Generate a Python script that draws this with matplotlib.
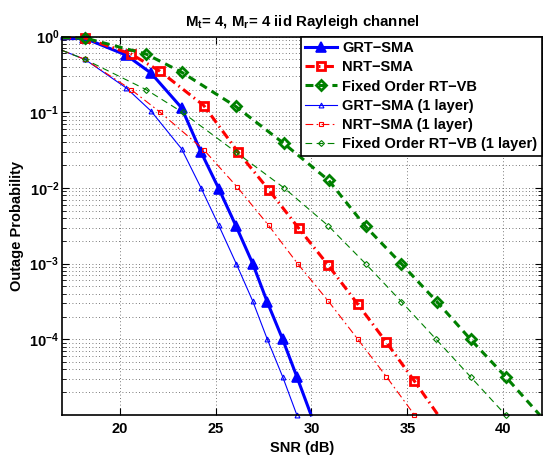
import matplotlib
matplotlib.use("Agg")
import matplotlib.pyplot as plt
from matplotlib.ticker import FixedLocator, FixedFormatter, LogLocator, NullFormatter

plt.rcParams["font.family"] = "Liberation Sans"
plt.rcParams["font.weight"] = "bold"
plt.rcParams["axes.titleweight"] = "bold"
plt.rcParams["axes.labelweight"] = "bold"
plt.rcParams["mathtext.fontset"] = "custom"
plt.rcParams["mathtext.rm"] = "Liberation Sans:bold"
plt.rcParams["mathtext.it"] = "Liberation Sans:bold"
plt.rcParams["mathtext.bf"] = "Liberation Sans:bold"
plt.rcParams["mathtext.default"] = "rm"

# data (SNR in dB, outage probability)
grt_snr = [17.0, 18.2, 20.35, 21.64, 23.23, 24.24, 25.17, 26.08, 26.94, 27.7, 28.5, 29.24, 29.98]
grt_pout = [0.94, 0.95, 0.57, 0.33, 0.115, 0.030, 0.0098, 0.0031, 1.0e-3, 3.1e-4, 1.0e-4, 3.2e-5, 1.0e-5]

nrt_snr = [17.0, 18.2, 20.6, 22.1, 24.39, 26.17, 27.77, 29.33, 30.88, 32.42, 33.91, 35.37, 36.6]
nrt_pout = [0.97, 0.96, 0.59, 0.35, 0.123, 0.030, 0.0095, 2.95e-3, 9.5e-4, 2.9e-4, 9.1e-5, 2.8e-5, 1.0e-5]

fix_snr = [17.0, 18.2, 21.38, 23.23, 26.05, 28.55, 30.9, 32.82, 34.68, 36.53, 38.29, 40.12, 41.9]
fix_pout = [0.97, 0.96, 0.59, 0.34, 0.12, 0.039, 0.0126, 3.1e-3, 1.0e-3, 3.16e-4, 1.0e-4, 3.2e-5, 1.0e-5]

grt1_snr = [17.0, 18.2, 20.35, 21.64, 23.23, 24.24, 25.17, 26.08, 26.94, 27.7, 28.5, 29.24]
grt1_pout = [0.66, 0.50, 0.21, 0.104, 0.033, 0.0101, 3.2e-3, 1.0e-3, 3.2e-4, 1.0e-4, 3.2e-5, 1.0e-5]

nrt1_snr = [17.0, 18.2, 20.6, 22.12, 24.39, 26.13, 27.77, 29.28, 30.88, 32.42, 33.91, 35.37]
nrt1_pout = [0.66, 0.50, 0.20, 0.10, 0.032, 0.0103, 3.2e-3, 1.0e-3, 3.2e-4, 1.0e-4, 3.2e-5, 1.0e-5]

fix1_snr = [17.0, 18.2, 21.38, 23.28, 26.05, 28.58, 30.88, 32.82, 34.68, 36.5, 38.31, 40.12]
fix1_pout = [0.66, 0.50, 0.20, 0.10, 0.030, 0.010, 3.16e-3, 1.0e-3, 3.16e-4, 1.0e-4, 3.16e-5, 1.0e-5]

labels = ["GRT\u2212SMA", "NRT\u2212SMA", "Fixed Order RT\u2212VB",
          "GRT\u2212SMA (1 layer)", "NRT\u2212SMA (1 layer)", "Fixed Order RT\u2212VB (1 layer)"]

yticks = [1e-4, 1e-3, 1e-2, 1e-1, 1e0]
yticklabels = [r"$10^{-4}$", r"$10^{-3}$", r"$10^{-2}$", r"$10^{-1}$", r"$10^{0}$"]
xticks = [20, 25, 30, 35, 40]

fig = plt.figure(figsize=(5.46, 4.61), dpi=100)
ax = fig.add_axes([0.1136, 0.0998, 0.8785, 0.8206])

thick = slice(1, -1)
thin = slice(1, None)
dash_thick = (0, (2.6, 1.8))
dashdot_thick = (0, (3.0, 1.4, 0.5, 1.4))
dash_thin = (0, (6, 4))
dashdot_thin = (0, (7, 3, 1.5, 3))

ax.plot(grt_snr, grt_pout, "-", color="blue", lw=2.2, marker="^", ms=7.5,
        mfc="blue", mec="blue", mew=1.2, markevery=thick, clip_on=False, label=labels[0])
ax.plot(nrt_snr, nrt_pout, linestyle=dashdot_thick, color="red", lw=2.2, marker="s", ms=6,
        mfc="none", mec="red", mew=2.0, markevery=thick, clip_on=False, label=labels[1])
ax.plot(fix_snr, fix_pout, linestyle=dash_thick, color="green", lw=2.2, marker="D", ms=5.5,
        mfc="none", mec="green", mew=2.0, markevery=thick, clip_on=False, label=labels[2])
ax.plot(grt1_snr, grt1_pout, "-", color="blue", lw=0.8, marker="^", ms=3.5,
        mfc="none", mec="blue", mew=0.8, markevery=thin, clip_on=False, label=labels[3])
ax.plot(nrt1_snr, nrt1_pout, linestyle=dashdot_thin, color="red", lw=0.8, marker="s", ms=3.2,
        mfc="none", mec="red", mew=0.8, markevery=thin, clip_on=False, label=labels[4])
ax.plot(fix1_snr, fix1_pout, linestyle=dash_thin, color="green", lw=0.8, marker="D", ms=3,
        mfc="none", mec="green", mew=0.8, markevery=thin, clip_on=False, label=labels[5])

ax.set_yscale("log")
ax.set_xlim(17, 42)
ax.set_ylim(1e-5, 1)
ax.xaxis.set_major_locator(FixedLocator(xticks))
ax.yaxis.set_major_locator(FixedLocator(yticks))
ax.yaxis.set_major_formatter(FixedFormatter(yticklabels))
ax.yaxis.set_minor_locator(LogLocator(base=10, subs=range(2, 10), numticks=20))
ax.yaxis.set_minor_formatter(NullFormatter())

ax.tick_params(which="both", direction="in", top=True, right=True, labelsize=10.5)
ax.tick_params(which="major", length=5, width=0.8, pad=5)
ax.tick_params(which="minor", length=3, width=0.6)
ax.tick_params(axis="y", which="major", pad=2)

ax.grid(True, which="major", axis="x", color="0.3", linestyle=(0, (1, 3)), lw=0.6)
ax.grid(True, which="both", axis="y", color="0.3", linestyle=(0, (1, 3)), lw=0.6)
for s in ax.spines.values():
    s.set_linewidth(1.2)

ax.set_xlabel("SNR (dB)", fontsize=10.5, labelpad=4)
ax.set_ylabel("Outage Probability", fontsize=10.5, labelpad=4)
ax.set_title(r"M$_t$= 4, M$_r$= 4 iid Rayleigh channel", fontsize=10.8, pad=8)

leg = ax.legend(loc="upper right", borderaxespad=0, fontsize=10.5, numpoints=1,
                handlelength=2.2, handletextpad=0.35, labelspacing=0.36,
                borderpad=0.3, fancybox=False, framealpha=1, edgecolor="black")
leg.get_frame().set_linewidth(1.2)

fig.savefig("out.png", dpi=100)
